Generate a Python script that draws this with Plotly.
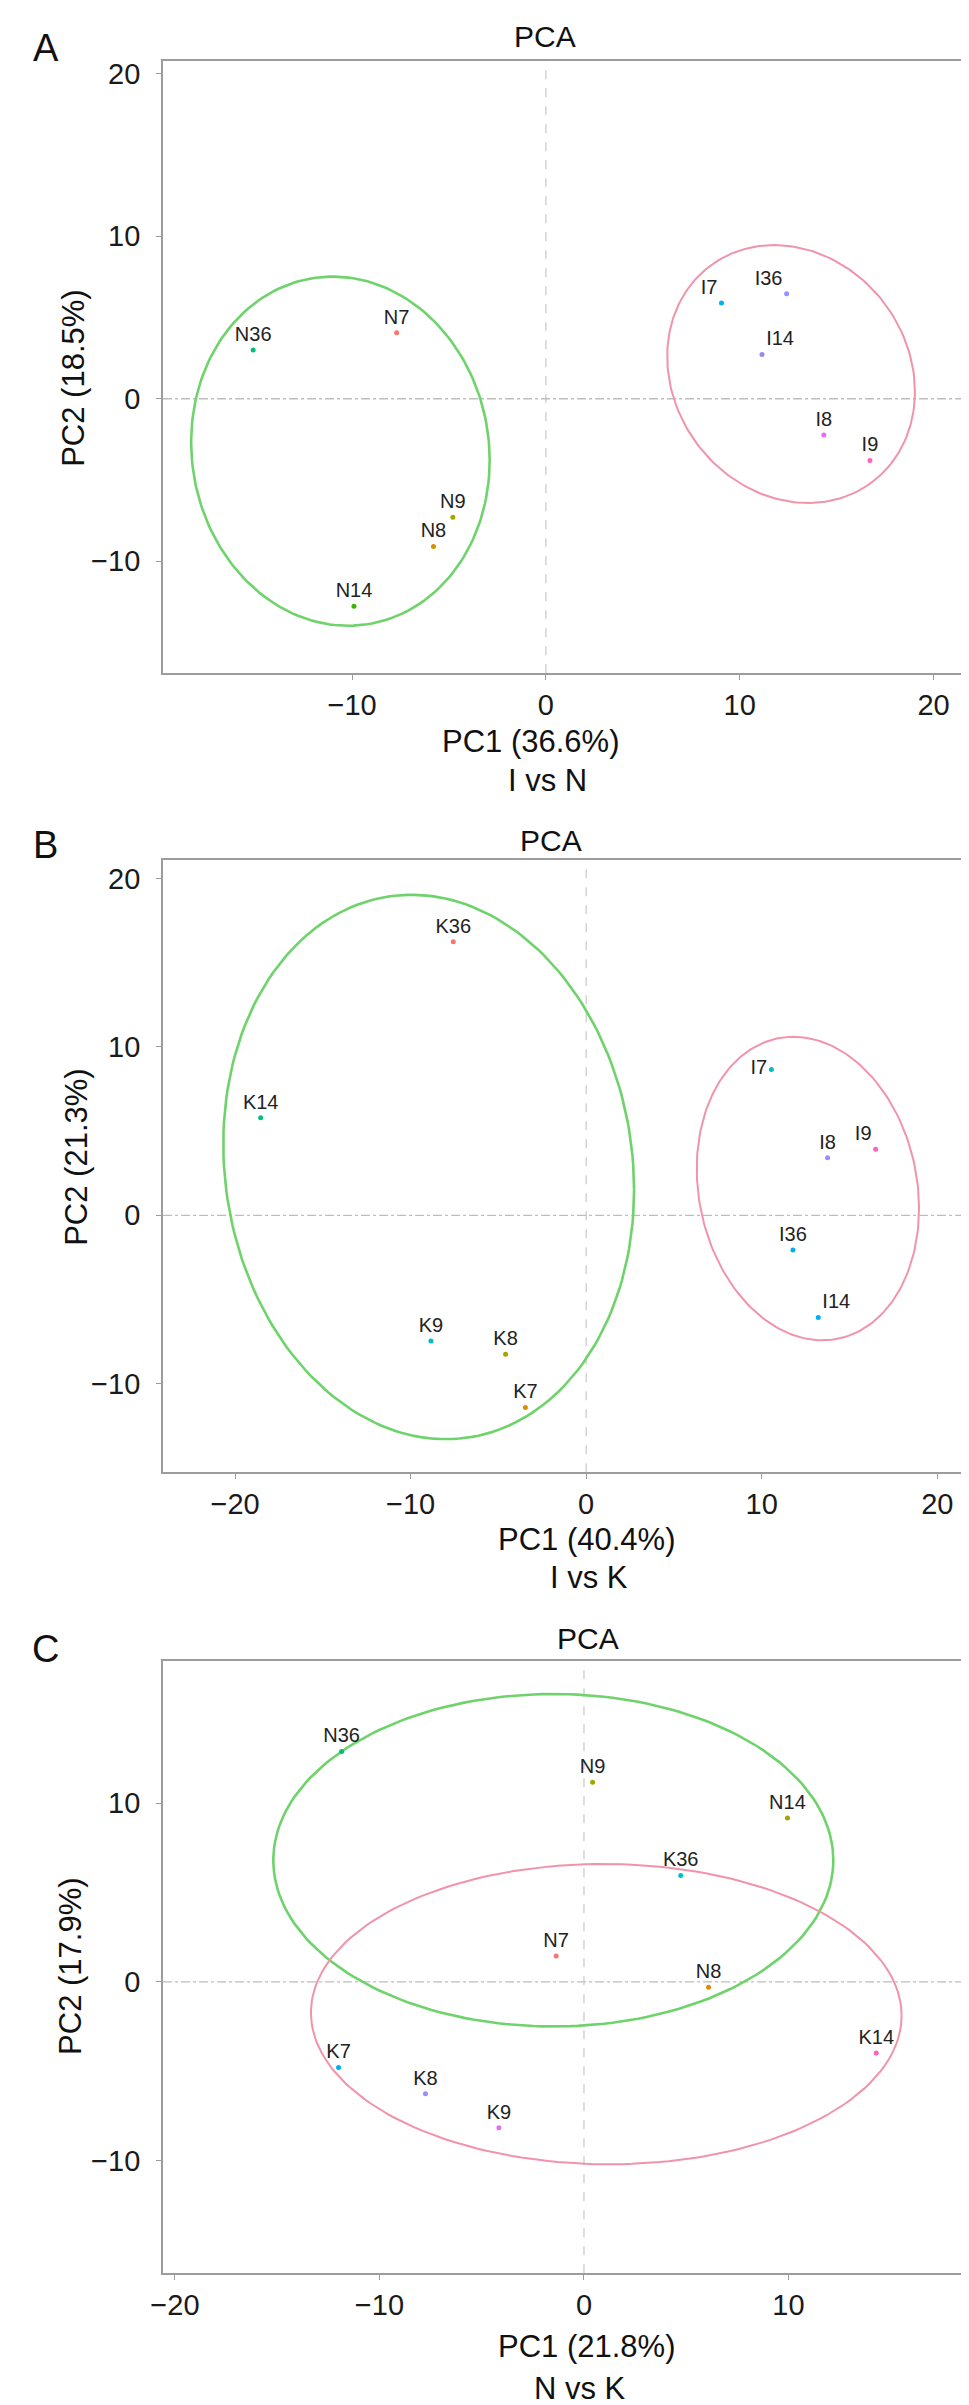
import numpy as np
import plotly.graph_objects as go

# --- données (scores PCA) ---
# A : I vs N
noms_a = ['N36', 'N7', 'N9', 'N8', 'N14', 'I7', 'I36', 'I14', 'I8', 'I9']
pc1_a = [-15.1, -7.7, -4.8, -5.8, -9.9, 9.06, 12.42, 11.15, 14.34, 16.72]
pc2_a = [3.0, 4.06, -7.3, -9.1, -12.78, 5.89, 6.46, 2.73, -2.24, -3.8]

# B : I vs K
noms_b = ['K36', 'K14', 'K9', 'K8', 'K7', 'I7', 'I8', 'I9', 'I36', 'I14']
pc1_b = [-7.57, -18.54, -8.84, -4.59, -3.46, 10.55, 13.75, 16.49, 11.78, 13.22]
pc2_b = [16.24, 5.8, -7.46, -8.25, -11.41, 8.66, 3.42, 3.92, -2.06, -6.07]

# C : N vs K
noms_c = ['N36', 'N9', 'N14', 'N7', 'N8', 'K36', 'K14', 'K7', 'K8', 'K9']
pc1_c = [-11.85, 0.42, 9.95, -1.36, 6.09, 4.73, 14.29, -12.0, -7.75, -4.16]
pc2_c = [12.89, 11.16, 9.16, 1.44, -0.3, 5.94, -3.98, -4.8, -6.26, -8.17]

# ellipses (centre x, centre y, demi-largeur, demi-hauteur, correlation)
ell_vert_a = [-10.6, -3.23, 7.7, 10.75, -0.052]
ell_rose_a = [12.65, 1.52, 6.39, 7.94, -0.136]
ell_vert_b = [-8.97, 2.87, 11.7, 16.16, -0.084]
ell_rose_b = [12.63, 1.59, 6.33, 9.01, -0.13]
ell_vert_c = [-1.5, 6.8, 13.69, 9.3, 0.0]
ell_rose_c = [1.09, -1.81, 14.44, 8.4, -0.01]

var_a = ['PC1 (36.6%)', 'PC2 (18.5%)', 'I vs N']
var_b = ['PC1 (40.4%)', 'PC2 (21.3%)', 'I vs K']
var_c = ['PC1 (21.8%)', 'PC2 (17.9%)', 'N vs K']

# couleurs des points (palette ggplot)
couleurs = {
    'N7': '#F8766D', 'N8': '#D89000', 'N9': '#A3A500', 'N14': '#39B600', 'N36': '#00BF7D',
    'I7': '#00B0F6', 'I14': '#8F8CF2', 'I36': '#9590FF', 'I8': '#E76BF3', 'I9': '#FF62BC',
}
couleurs_b = {'K36': '#F8766D', 'K14': '#00BF7D', 'K9': '#00BFC4', 'K8': '#A3A500', 'K7': '#D89000',
              'I7': '#00BFC4', 'I8': '#9590FF', 'I9': '#FF62BC', 'I36': '#00B0F6', 'I14': '#00B0F6'}
couleurs_c = {'N36': '#00BF7D', 'N9': '#A3A500', 'N14': '#A3A500', 'N7': '#F8766D', 'N8': '#D89000',
              'K36': '#00BFC4', 'K14': '#FF62BC', 'K7': '#00B0F6', 'K8': '#9590FF', 'K9': '#E76BF3'}

# position des étiquettes qui ne sont pas au-dessus
pos_a = {'I7': 'top left', 'I36': 'top left', 'I14': 'top right'}
pos_b = {'I7': 'middle left', 'I9': 'top left', 'I14': 'top right'}
pos_c = {}

W, H = 969, 2405
VERT = '#6FD36B'
ROSE = '#F193AB'
POLICE = 'Liberation Sans, Arial, Helvetica, sans-serif'


def ellipse(p, n=200):
    cx, cy, sx, sy, r = p
    m = np.array([[sx * sx, r * sx * sy], [r * sx * sy, sy * sy]])
    L = np.linalg.cholesky(m)
    t = np.linspace(0, 2 * np.pi, n)
    xy = L @ np.vstack([np.cos(t), np.sin(t)])
    return cx + xy[0], cy + xy[1]


panneaux = [
    dict(lettre='A', noms=noms_a, x=pc1_a, y=pc2_a, cols=couleurs, pos=pos_a, var=var_a,
         ev=ell_vert_a, er=ell_rose_a, haut=50, bas=663, xr=[-19.75, 22.14], yr=[-16.9, 20.8],
         titre=(531, 26), let_y=37, ytitre=(53, 368), xtitre=(516, 534, 731, 770)),
    dict(lettre='B', noms=noms_b, x=pc1_b, y=pc2_b, cols=couleurs_b, pos=pos_b, var=var_b,
         ev=ell_vert_b, er=ell_rose_b, haut=850, bas=1463, xr=[-24.1, 22.15], yr=[-15.25, 21.1],
         titre=(537, 831), let_y=835, ytitre=(56, 1148), xtitre=(573, 576, 1530, 1568)),
    dict(lettre='C', noms=noms_c, x=pc1_c, y=pc2_c, cols=couleurs_c, pos=pos_c, var=var_c,
         ev=ell_vert_c, er=ell_rose_c, haut=1652, bas=2265, xr=[-20.58, 19.12], yr=[-16.3, 17.95],
         titre=(575, 1630), let_y=1640, ytitre=(50, 1958), xtitre=(573, 567, 2338, 2380)),
]

fig = go.Figure()
annots = []
shapes = []
axes = {}

for i, p in enumerate(panneaux):
    k = '' if i == 0 else str(i + 1)
    xa, ya = 'x' + k, 'y' + k

    for e, c, w in [(p['ev'], VERT, 2.6), (p['er'], ROSE, 2.0)]:
        ex, ey = ellipse(e)
        fig.add_trace(go.Scatter(x=ex, y=ey, mode='lines', line=dict(color=c, width=w),
                                 hoverinfo='skip', showlegend=False, xaxis=xa, yaxis=ya))

    fig.add_trace(go.Scatter(
        x=p['x'], y=p['y'], mode='markers+text', text=p['noms'],
        textposition=[p['pos'].get(n, 'top center') for n in p['noms']],
        textfont=dict(size=20, color='#222222', family=POLICE),
        marker=dict(size=5, color=[p['cols'][n] for n in p['noms']]),
        showlegend=False, xaxis=xa, yaxis=ya))

    dom_y = [1 - p['bas'] / H, 1 - p['haut'] / H]
    commun = dict(showgrid=False, zeroline=False, showline=True, mirror=True,
                  linecolor='#9C9C9C', linewidth=2, ticks='outside', ticklen=5,
                  tickcolor='#9C9C9C', tickwidth=1, dtick=10,
                  tickfont=dict(size=29, color='#1A1A1A', family=POLICE))
    axes['xaxis' + k] = dict(commun, domain=[144 / W, 967 / W], range=p['xr'], anchor=ya)
    axes['yaxis' + k] = dict(commun, domain=dom_y, range=p['yr'], anchor=xa,
                             ticklabelstandoff=10)

    # lignes de référence en 0
    shapes.append(dict(type='line', xref=xa, yref=ya + ' domain', x0=0, x1=0, y0=0, y1=1,
                       line=dict(color='#C8C8C8', width=1.2, dash='dash'), layer='below'))
    shapes.append(dict(type='line', xref=xa + ' domain', yref=ya, x0=0, x1=1, y0=0, y1=0,
                       line=dict(color='#BDBDBD', width=1.3, dash='dashdot'), layer='below'))

    # textes
    f = dict(family=POLICE, color='#111111')
    base = dict(xref='paper', yref='paper', showarrow=False, xanchor='center', yanchor='middle')
    annots.append(dict(base, text=p['lettre'], x=25 / W, y=1 - p['let_y'] / H, font=dict(f, size=38)))
    annots.append(dict(base, text='PCA', x=p['titre'][0] / W, y=1 - p['titre'][1] / H, font=dict(f, size=30)))
    annots.append(dict(base, text=p['var'][1], x=p['ytitre'][0] / W, y=1 - p['ytitre'][1] / H,
                       textangle=-90, font=dict(f, size=31)))
    annots.append(dict(base, text=p['var'][0], x=p['xtitre'][0] / W, y=1 - p['xtitre'][2] / H,
                       font=dict(f, size=31)))
    annots.append(dict(base, text=p['var'][2], x=p['xtitre'][1] / W, y=1 - p['xtitre'][3] / H,
                       font=dict(f, size=31)))

fig.update_layout(
    width=W, height=H,
    margin=dict(l=0, r=0, t=0, b=0),
    plot_bgcolor='white', paper_bgcolor='white',
    annotations=annots, shapes=shapes,
    **axes
)

fig.write_html("out.html")
